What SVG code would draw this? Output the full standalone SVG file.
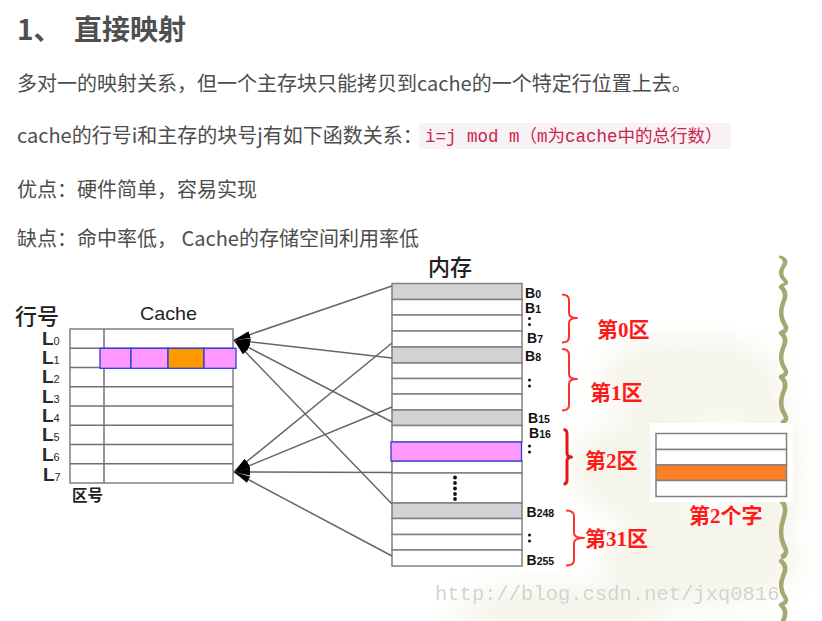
<svg xmlns="http://www.w3.org/2000/svg" width="822" height="621" viewBox="0 0 822 621">
<style>
.body{font-family:"Noto Sans CJK SC","Noto Sans",sans-serif;font-size:20px;fill:#4d4d4d}
.title{font-family:"Noto Sans CJK SC","Noto Sans",sans-serif;font-size:28px;font-weight:bold;fill:#4f4f4f}
.code{font-family:"Liberation Mono","Noto Sans CJK SC",monospace;font-size:17.5px;fill:#c7254e}
.cell{fill:#fff;stroke:#808080;stroke-width:1.5}
.gray{fill:#d3d3d3;stroke:#808080;stroke-width:1.5}
.pink{fill:#ff99ff;stroke:#2a3ce6;stroke-width:1.3}
.tline{stroke:#707070;stroke-width:1.5;fill:none}
.L{font-family:"Liberation Sans",Arial,sans-serif;font-size:19px;font-weight:bold;fill:#2a2a2a}
.Ls{font-size:11px;font-weight:normal}
.B{font-family:"Liberation Sans",Arial,sans-serif;font-size:14px;font-weight:bold;fill:#111}
.Bs{font-size:10.5px}
.cjk{font-family:"Noto Sans CJK SC",sans-serif;fill:#222}
.red{font-family:"Liberation Serif","Noto Sans CJK SC",serif;font-size:21px;font-weight:bold;fill:#ff1a1a}
.brace{fill:none;stroke:#ff3030;stroke-width:2;stroke-linejoin:round}
.conn{stroke:#666;stroke-width:1.5;fill:none}
.wv{fill:none;stroke:#a6a872;stroke-width:4.5;stroke-linecap:round}
</style>
<defs>
<marker id="ah" markerWidth="17" markerHeight="7" refX="16.5" refY="3.5" orient="auto" markerUnits="userSpaceOnUse">
<path d="M0,0 L17,3.5 L0,7 z" fill="#000"/>
</marker>
<filter id="blur" x="-50%" y="-50%" width="200%" height="200%"><feGaussianBlur stdDeviation="14"/></filter>
<path id="wseg" d="M-2,0 C3,4 3,10 0,16 C-3,24 -2,32 2,38 C4,41 3,44 0,45"/>
</defs>
<rect width="822" height="621" fill="#fff"/>

<!-- page text -->
<g id="title"><text class="title" x="17" y="40">1、<tspan x="74">直接映射</tspan></text></g>
<g id="text-lines">
<text class="body" x="17" y="91">多对一的映射关系，但一个主存块只能拷贝到cache的一个特定行位置上去。</text>
<text class="body" x="17" y="143">cache的行号i和主存的块号j有如下函数关系：</text>
<rect x="419" y="123" width="312" height="26" rx="3" fill="#f9f2f4"/>
<text class="code" x="425" y="142">i=j mod m（m为cache中的总行数）</text>
<text class="body" x="17" y="197">优点：硬件简单，容易实现</text>
<text class="body" x="17" y="246">缺点：命中率低， Cache的存储空间利用率低</text>
</g>

<!-- slide background -->
<g id="background">
<g filter="url(#blur)" fill="#e6e4cc" opacity="0.4">
<ellipse cx="690" cy="380" rx="90" ry="45"/>
<ellipse cx="640" cy="470" rx="70" ry="50"/>
<ellipse cx="700" cy="560" rx="100" ry="45"/>
<ellipse cx="560" cy="610" rx="110" ry="25"/>
<ellipse cx="770" cy="470" rx="30" ry="80"/>
</g>
<rect x="0" y="250" width="560" height="323" fill="#fff"/>
<rect x="560" y="250" width="262" height="80" fill="#fff" opacity="0.6"/>
<g class="wv">
<use href="#wseg" transform="translate(783,257) scale(1,0.62)"/>
<use href="#wseg" transform="translate(783,287)"/>
<use href="#wseg" transform="translate(783,333) scale(1,0.95)"/>
<use href="#wseg" transform="translate(783,377)"/>
<use href="#wseg" transform="translate(783,500) scale(1,1.25)"/>
<use href="#wseg" transform="translate(783,561) scale(1,0.95)"/>
<use href="#wseg" transform="translate(783,605)"/>
</g>
</g>

<!-- cache -->
<g id="cache">
<text class="cjk" x="15" y="324" font-size="22" font-weight="500">行号</text>
<text x="168.5" y="320" text-anchor="middle" font-family="Liberation Sans,Arial,sans-serif" font-size="19" fill="#222" textLength="57" lengthAdjust="spacingAndGlyphs">Cache</text>
<rect class="cell" x="70" y="329" width="163" height="154"/>
<g class="tline">
<line x1="70" y1="348.25" x2="233" y2="348.25"/>
<line x1="70" y1="367.5" x2="233" y2="367.5"/>
<line x1="70" y1="386.75" x2="233" y2="386.75"/>
<line x1="70" y1="406" x2="233" y2="406"/>
<line x1="70" y1="425.25" x2="233" y2="425.25"/>
<line x1="70" y1="444.5" x2="233" y2="444.5"/>
<line x1="70" y1="463.75" x2="233" y2="463.75"/>
<line x1="104" y1="329" x2="104" y2="483"/>
</g>
<rect class="pink" x="100" y="348.3" width="31" height="20"/>
<rect class="pink" x="131" y="348.3" width="37" height="20"/>
<rect class="pink" x="168" y="348.3" width="36" height="20" style="fill:#ff9900"/>
<rect class="pink" x="204" y="348.3" width="32" height="20"/>
<text class="L" x="42" y="345">L<tspan class="Ls">0</tspan></text>
<text class="L" x="42" y="364">L<tspan class="Ls">1</tspan></text>
<text class="L" x="42" y="383">L<tspan class="Ls">2</tspan></text>
<text class="L" x="42" y="403">L<tspan class="Ls">3</tspan></text>
<text class="L" x="42" y="422">L<tspan class="Ls">4</tspan></text>
<text class="L" x="42" y="441">L<tspan class="Ls">5</tspan></text>
<text class="L" x="42" y="461">L<tspan class="Ls">6</tspan></text>
<text class="L" x="43" y="481">L<tspan class="Ls">7</tspan></text>
<text class="cjk" x="72" y="501" font-size="15.5" font-weight="bold" fill="#333">区号</text>
</g>

<!-- memory -->
<g id="memory">
<text class="cjk" x="428" y="275" font-size="22" font-weight="500">内存</text>
<rect class="gray" x="392" y="283.5" width="130" height="16"/>
<rect class="cell" x="392" y="299.5" width="130" height="15.5"/>
<rect class="cell" x="392" y="315" width="130" height="16"/>
<rect class="cell" x="392" y="331" width="130" height="16"/>
<rect class="gray" x="392" y="347" width="130" height="16"/>
<rect class="cell" x="392" y="363" width="130" height="15.5"/>
<rect class="cell" x="392" y="378.5" width="130" height="15.5"/>
<rect class="cell" x="392" y="394" width="130" height="16"/>
<rect class="gray" x="392" y="410" width="130" height="15.5"/>
<rect class="cell" x="392" y="425.5" width="130" height="16.5"/>
<rect class="cell" x="392" y="461" width="130" height="12"/>
<rect class="cell" x="392" y="473" width="130" height="30"/>
<rect class="gray" x="392" y="503" width="130" height="15.5"/>
<rect class="cell" x="392" y="518.5" width="130" height="16"/>
<rect class="cell" x="392" y="534.5" width="130" height="15.5"/>
<rect class="cell" x="392" y="550" width="130" height="16"/>
<rect class="pink" x="391" y="442" width="130.5" height="19"/>
<g fill="#111">
<circle cx="455" cy="477.5" r="1.9"/><circle cx="455" cy="483" r="1.9"/><circle cx="455" cy="488.5" r="1.9"/><circle cx="455" cy="494" r="1.9"/><circle cx="455" cy="499" r="1.9"/>
<circle cx="529.5" cy="318.5" r="1.5"/><circle cx="529.5" cy="324.5" r="1.5"/>
<circle cx="529.5" cy="380" r="1.5"/><circle cx="529.5" cy="386" r="1.5"/>
<circle cx="529.5" cy="446" r="1.5"/><circle cx="529.5" cy="452" r="1.5"/>
<circle cx="529.5" cy="535" r="1.5"/><circle cx="529.5" cy="541" r="1.5"/>
</g>
<text class="B" x="525" y="297.5">B<tspan class="Bs">0</tspan></text>
<text class="B" x="525" y="313">B<tspan class="Bs">1</tspan></text>
<text class="B" x="527" y="343">B<tspan class="Bs">7</tspan></text>
<text class="B" x="525" y="361">B<tspan class="Bs">8</tspan></text>
<text class="B" x="528" y="423">B<tspan class="Bs">15</tspan></text>
<text class="B" x="529" y="438">B<tspan class="Bs">16</tspan></text>
<text class="B" x="526.5" y="517">B<tspan class="Bs">248</tspan></text>
<text class="B" x="526.5" y="565">B<tspan class="Bs">255</tspan></text>
</g>

<!-- zones -->
<g id="zones">
<path class="brace" d="M562,294.5 Q569,294.5 569,300 L569,313 Q569,318 577,318 Q569,318 569,323 L569,337 Q569,342.5 562,342.5"/>
<path class="brace" d="M562,349 Q569,349 569,355 L569,374 Q569,379 577,379 Q569,379 569,384 L569,405 Q569,410.5 562,410.5"/>
<path class="brace" style="stroke:#e01818;stroke-width:3" d="M563.5,429.5 Q567,429.5 567,434 L567,453 Q567,457 571.5,457 Q567,457 567,461 L567,480 Q567,484 563.5,484"/>
<path class="brace" d="M566,510.5 Q574,510.5 574,516 L574,533 Q574,538 584,538 Q574,538 574,543 L574,560 Q574,565.5 566,565.5"/>
<text class="red" x="597" y="337">第0区</text>
<text class="red" x="590" y="400">第1区</text>
<text class="red" x="585" y="468">第2区</text>
<text class="red" x="585" y="546">第31区</text>
</g>

<!-- word detail -->
<g id="word">
<rect x="650" y="423" width="143" height="79" fill="#fff"/>
<rect class="cell" x="656" y="433.5" width="130.5" height="16"/>
<rect class="cell" x="656" y="449.5" width="130.5" height="15.5"/>
<rect x="656" y="465" width="130.5" height="15.5" fill="#ff7f27" stroke="#808080" stroke-width="1.5"/>
<rect class="cell" x="656" y="480.5" width="130.5" height="16"/>
<text class="red" x="689" y="523" font-size="20">第2个字</text>
</g>

<!-- connectors -->
<g id="connectors" class="conn" marker-end="url(#ah)">
<line x1="392" y1="286" x2="234" y2="340"/>
<line x1="392" y1="358" x2="234" y2="340"/>
<line x1="392" y1="422" x2="234" y2="340"/>
<line x1="392" y1="504" x2="234" y2="340"/>
<line x1="392" y1="343" x2="234" y2="472"/>
<line x1="392" y1="407" x2="234" y2="472"/>
<line x1="392" y1="472.5" x2="234" y2="472"/>
<line x1="392" y1="556" x2="234" y2="472"/>
</g>

<text x="435" y="600" font-family="Liberation Mono,monospace" font-size="20.5" fill="#cfcfcf" opacity="0.9">http://blog.csdn.net/jxq0816</text>
</svg>
